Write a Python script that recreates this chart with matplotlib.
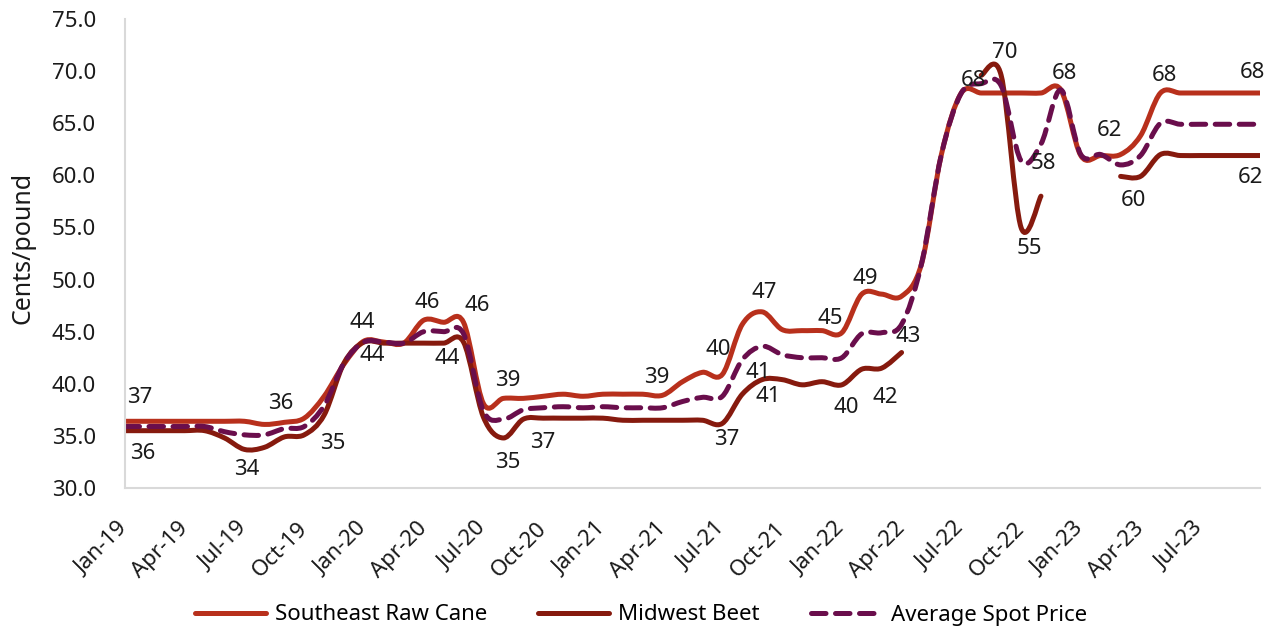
import numpy as np
import matplotlib
matplotlib.use('Agg')
from matplotlib import pyplot as plt
from matplotlib.path import Path
from matplotlib.patches import PathPatch
from matplotlib.lines import Line2D

plt.rcParams['font.family'] = ['Noto Sans', 'DejaVu Sans']

# monthly, Jan-19 .. Oct-23 (cents/pound), None = no value
months = ['Jan-19', 'Feb-19', 'Mar-19', 'Apr-19', 'May-19', 'Jun-19', 'Jul-19', 'Aug-19', 'Sep-19',
          'Oct-19', 'Nov-19', 'Dec-19', 'Jan-20', 'Feb-20', 'Mar-20', 'Apr-20', 'May-20', 'Jun-20',
          'Jul-20', 'Aug-20', 'Sep-20', 'Oct-20', 'Nov-20', 'Dec-20', 'Jan-21', 'Feb-21', 'Mar-21',
          'Apr-21', 'May-21', 'Jun-21', 'Jul-21', 'Aug-21', 'Sep-21', 'Oct-21', 'Nov-21', 'Dec-21',
          'Jan-22', 'Feb-22', 'Mar-22', 'Apr-22', 'May-22', 'Jun-22', 'Jul-22', 'Aug-22', 'Sep-22',
          'Oct-22', 'Nov-22', 'Dec-22', 'Jan-23', 'Feb-23', 'Mar-23', 'Apr-23', 'May-23', 'Jun-23',
          'Jul-23', 'Aug-23', 'Sep-23', 'Oct-23']

cane = [36.4, 36.4, 36.4, 36.4, 36.4, 36.4, 36.4, 36.1, 36.3, 36.7, 38.8, 41.9,
        44.1, 44.0, 43.9, 46.1, 45.9, 45.9, 38.1, 38.6, 38.6, 38.8, 39.0, 38.8,
        39.0, 39.0, 39.0, 38.9, 40.2, 41.1, 40.9, 45.7, 46.9, 45.2, 45.1, 45.1,
        44.9, 48.6, 48.6, 48.4, 51.5, 62.0, 67.9, 67.9, 67.9, 67.9, 67.9, 68.2,
        61.9, 61.9, 62.0, 63.8, 67.9, 67.9, 67.9, 67.9, 67.9, 67.9]

beet = [35.5, 35.5, 35.5, 35.5, 35.5, 34.8, 33.7, 33.9, 34.9, 35.1, 37.0, 42.0,
        44.0, 43.9, 43.9, 43.9, 43.9, 44.0, 36.8, 34.8, 36.6, 36.7, 36.7, 36.7,
        36.7, 36.5, 36.5, 36.5, 36.5, 36.5, 36.2, 39.0, 40.4, 40.4, 39.9, 40.2,
        39.9, 41.4, 41.5, 43.0, None, None, None, 69.6, 69.6, 55.0, 58.0, None,
        None, None, 59.9, 59.9, 62.0, 61.9, 61.9, 61.9, 61.9, 61.9]

spot = [35.9, 35.9, 35.9, 35.9, 35.9, 35.4, 35.1, 35.1, 35.7, 35.9, 37.9, 42.0,
        44.0, 44.0, 43.9, 45.0, 45.0, 44.8, 37.4, 36.6, 37.5, 37.7, 37.8, 37.7,
        37.8, 37.7, 37.7, 37.7, 38.3, 38.7, 38.8, 42.3, 43.6, 42.8, 42.5, 42.5,
        42.5, 44.8, 44.9, 45.7, 51.5, 62.0, 67.9, 68.8, 68.6, 61.4, 63.0, 68.2,
        62.0, 62.0, 61.0, 61.9, 65.0, 64.9, 64.9, 64.9, 64.9, 64.9]

# data labels as shown: (text, x month position, y value)
label_txt = ['37', '36', '34', '36', '35', '44', '44', '46', '44', '46', '39', '35', '37',
             '39', '40', '37', '41', '41', '47', '45', '40', '42', '43', '49', '68', '70',
             '58', '55', '68', '62', '60', '68', '68', '62']
label_x = [0.75, 0.9, 6.1, 7.8, 10.45, 11.9, 12.4, 15.2, 16.2, 17.7, 19.2, 19.2, 21.0,
           26.7, 29.8, 30.2, 31.8, 32.3, 32.1, 35.4, 36.2, 38.2, 39.35, 37.2, 42.6, 44.2,
           46.1, 45.4, 47.2, 49.45, 50.65, 52.2, 56.6, 56.5]
label_y = [38.65, 33.3, 31.8, 38.1, 34.3, 45.9, 42.7, 47.8, 42.4, 47.5, 40.3, 32.4, 34.4,
           40.6, 43.3, 34.7, 41.1, 38.8, 48.75, 46.25, 37.7, 38.65, 44.5, 50.1, 69.1, 71.8,
           61.15, 53.0, 69.8, 64.3, 57.6, 69.6, 69.9, 59.8]

c_cane = '#B8301C'
c_beet = '#861A0E'
c_spot = '#6A0E4C'
dash = (0, (2.9, 1.9))


def smooth_path(vals):
    # Excel style smoothed line: Catmull-Rom segments as cubic Beziers
    verts = []
    codes = []
    segs = []
    seg = []
    for i, v in enumerate(vals):
        if v is None:
            if seg:
                segs.append(seg)
            seg = []
        else:
            seg.append((i, v))
    if seg:
        segs.append(seg)
    for s in segs:
        p = np.array(s, dtype=float)
        n = len(p)
        verts.append(p[0])
        codes.append(Path.MOVETO)
        for i in range(n - 1):
            p0 = p[i - 1] if i > 0 else p[i]
            p3 = p[i + 2] if i + 2 < n else p[i + 1]
            c1 = p[i] + (p[i + 1] - p0) / 6.0
            c2 = p[i + 1] - (p3 - p[i]) / 6.0
            verts += [c1, c2, p[i + 1]]
            codes += [Path.CURVE4] * 3
    return Path(verts, codes)


fig = plt.figure(figsize=(12.79, 6.31), dpi=100)
ax = fig.add_axes([125 / 1279, 1 - 488 / 631, 1135 / 1279, 469 / 631])

lw = 3.6
for vals, col, ls in [(cane, c_cane, '-'), (beet, c_beet, '-'), (spot, c_spot, dash)]:
    patch = PathPatch(smooth_path(vals), facecolor='none', edgecolor=col, lw=lw, linestyle=ls)
    patch.set_capstyle('round')
    patch.set_joinstyle('round')
    ax.add_patch(patch)

for t, lx, ly in zip(label_txt, label_x, label_y):
    ax.text(lx, ly, t, ha='center', va='center', fontsize=16, color='#1a1a1a')

ax.set_xlim(0, len(months) - 1)
ax.set_ylim(30, 75)
ax.set_yticks(np.arange(30, 76, 5))
ax.set_yticklabels(['%.1f' % v for v in np.arange(30, 76, 5)])
ax.set_xticks(np.arange(0, len(months) - 1, 3))
ax.set_xticklabels(months[0:len(months) - 1:3], rotation=45, ha='right', va='center',
                   rotation_mode='anchor')
ax.tick_params(axis='both', length=0, labelsize=16, colors='#1a1a1a')
ax.tick_params(axis='y', pad=21)
ax.tick_params(axis='x', pad=27)
for sp in ['top', 'right']:
    ax.spines[sp].set_visible(False)
for sp in ['left', 'bottom']:
    ax.spines[sp].set_color('#D9D9D9')
    ax.spines[sp].set_linewidth(1.5)

fig.text(23 / 1279, 1 - 248 / 631, 'Cents/pound', rotation=90, ha='center', va='center',
         fontsize=18, color='#1a1a1a')

handles = [Line2D([], [], color=c_cane, lw=lw, solid_capstyle='round'),
           Line2D([], [], color=c_beet, lw=lw, solid_capstyle='round'),
           Line2D([], [], color=c_spot, lw=lw, linestyle=dash, dash_capstyle='round')]
fig.legend(handles, ['Southeast Raw Cane', 'Midwest Beet', 'Average Spot Price'],
           loc='center', bbox_to_anchor=(0.501, 1 - 615 / 631), ncol=3, frameon=False,
           fontsize=16, handlelength=3.2, handletextpad=0.4, columnspacing=2.3)

plt.savefig('out.png', dpi=100)
